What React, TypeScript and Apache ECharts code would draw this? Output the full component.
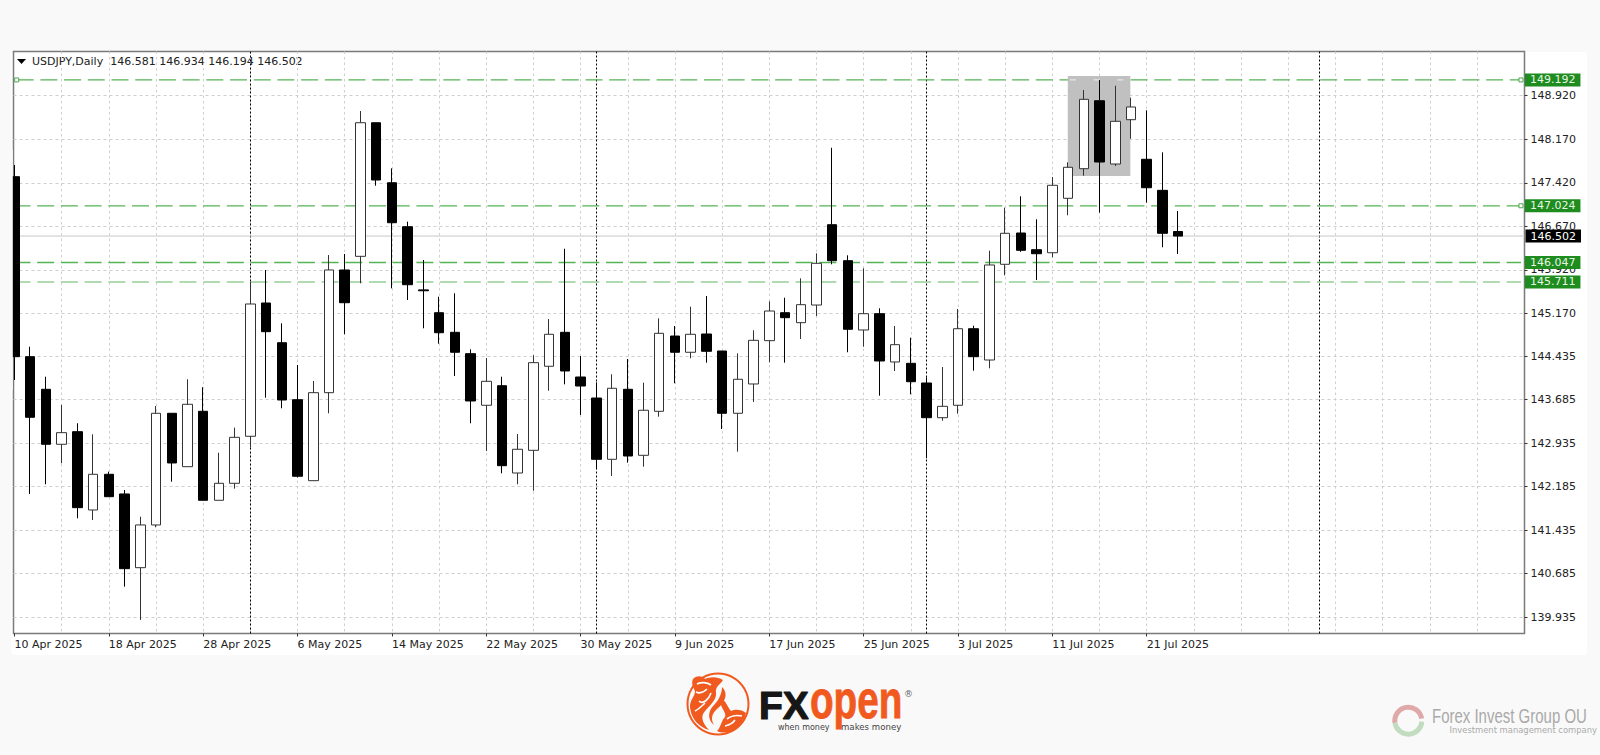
import React, { useEffect, useRef } from "react";
import * as echarts from "echarts";

const opens = [147.525,144.424,143.862,142.915,143.132,141.783,142.398,142.059,140.789,141.525,143.449,142.529,143.483,141.950,142.243,143.053,145.349,144.665,143.683,142.288,143.804,145.918,146.153,148.455,147.421,146.663,145.575,145.182,144.844,144.476,143.587,143.924,142.420,142.811,144.259,144.844,144.074,143.712,142.656,143.862,142.725,143.483,144.780,144.500,144.815,144.522,143.449,143.954,144.700,145.182,145.010,145.314,146.698,146.078,144.884,145.165,144.333,144.310,143.971,143.373,143.587,144.906,144.367,146.016,146.555,146.267,146.215,147.153,147.663,148.834,147.744,148.507,147.825,147.290,146.581];
const closes = [144.424,143.380,142.915,143.115,141.823,142.398,142.012,140.772,141.525,143.449,142.593,143.604,141.950,142.243,143.035,145.332,144.855,143.678,142.364,143.804,145.918,145.354,148.455,147.468,146.732,145.664,145.560,144.837,144.500,143.661,144.000,142.546,142.829,144.321,144.810,144.178,143.919,142.656,143.880,142.713,143.501,144.827,144.500,144.810,144.517,143.449,144.035,144.706,145.211,145.096,145.320,146.033,146.078,144.896,145.165,144.350,144.631,143.993,143.373,143.569,144.906,144.424,146.004,146.550,146.257,146.198,147.377,147.687,148.858,147.778,148.479,148.726,147.335,146.550,146.502];
const lows = [144.022,142.059,142.226,142.588,141.640,141.611,142.012,140.462,139.888,141.485,142.271,142.529,141.950,141.950,142.150,142.863,143.718,143.535,142.343,142.288,143.449,144.810,145.688,147.370,145.602,145.401,144.913,144.648,144.091,143.277,142.799,142.415,142.226,142.115,143.838,143.948,143.420,142.484,142.369,142.598,142.529,143.390,143.966,144.396,144.321,143.178,142.787,143.644,144.327,144.321,144.729,145.125,146.016,144.500,144.596,143.752,144.178,143.776,142.674,143.321,143.442,144.183,144.224,145.826,146.230,145.745,146.136,146.860,147.542,146.905,147.709,148.179,147.077,146.309,146.194];
const highs = [147.726,144.596,144.079,143.592,143.277,143.087,142.443,142.128,141.668,143.575,143.449,144.035,143.897,142.770,143.201,145.716,145.918,144.999,144.281,144.005,146.176,146.193,148.657,148.455,147.669,146.750,146.090,145.458,145.516,144.551,144.401,144.079,143.092,144.448,145.073,146.284,144.436,143.983,144.121,144.384,143.976,145.085,144.953,145.285,145.470,144.522,144.482,144.879,145.378,145.440,145.774,146.205,148.024,146.171,145.947,145.258,144.953,144.751,144.069,144.246,145.246,144.958,146.250,146.991,147.187,146.791,147.520,147.773,149.018,149.191,149.092,148.886,148.669,147.945,146.934];

const dateLabels = ["10 Apr 2025","18 Apr 2025","28 Apr 2025","6 May 2025","14 May 2025","22 May 2025","30 May 2025","9 Jun 2025","17 Jun 2025","25 Jun 2025","3 Jul 2025","11 Jul 2025","21 Jul 2025"];
const priceTicks = [148.92,148.17,147.42,146.67,145.92,145.17,144.435,143.685,142.935,142.185,141.435,140.685,139.935];
const separators = [15,37,58,83];
const gridBars = [3,6,9,12,15,18,21,24,27,30,33,36,39,42,45,48,51,54,57,60,63,66,69,72,75,78,81,84,87,90,93];
const supportLevels = [149.192,147.024,146.047,145.711];
const lastPrice = 146.502;
const boxBars = [66.98,70.96];
const boxPrices = [149.259,147.537];
const boxGapBars = [67.12,70.55];

const FONT = '"DejaVu Sans", sans-serif';
const X_MIN = -0.064;
const X_MAX = 96.025;
const Y_MIN = 139.655;
const Y_MAX = 149.682;
const LINE_END = 95.8;

echarts.graphic.registerShape("bullA", echarts.graphic.extendPath("M6 6C10 2 16 3 18 6C22 4 30 3 36 7C33 12 28 13 29 20C30 28 20 34 16 41C14 46 17 52 22 57C12 54 4 46 3 34C3 26 8 24 8 18C6 14 4 10 6 6Z", {}));
echarts.graphic.registerShape("bullB", echarts.graphic.extendPath("M33 28C38 24 40 34 44 38C48 36 54 36 59 40C57 48 52 54 46 58C40 60 34 60 30 58C34 54 34 48 38 44C40 40 34 36 33 28Z", {}));
echarts.graphic.registerShape("bullSwirl", echarts.graphic.extendPath("M35 14C42 20 38 30 30 36C24 41 24 47 27 52C20 46 21 38 27 32C32 27 35 20 35 14Z", {}));
echarts.graphic.registerShape("bullLines", echarts.graphic.extendPath("M10 11C14 9 20 9 24 12M9 19C13 21 17 19 20 16M12 28C16 32 22 26 24 20M8 38C12 36 15 33 18 30M40 46C44 43 50 42 55 43M38 53C42 52 46 50 48 47", {}));

const levelColor = (i: number) => (i === 3 ? "#97cf97" : "#56b356");

const levelSeries = supportLevels.map((lv, i) => {
  const square = { symbol: "rect", symbolSize: 4, itemStyle: { color: "#fff", borderColor: "#4aa84a", borderWidth: 1 } };
  const start = i === 0 ? { value: [0.14, lv], ...square } : { value: [X_MIN, lv], symbol: "none" };
  const end = i < 2 ? { value: [LINE_END, lv], ...square } : { value: [LINE_END, lv], symbol: "none" };
  return {
    type: "line",
    name: "level" + lv,
    xAxisIndex: 0,
    z: 2,
    silent: true,
    showSymbol: true,
    showAllSymbol: true,
    symbol: "none",
    data: [start, end],
    lineStyle: { color: levelColor(i), width: 1.3, type: [17, 6.7] },
    endLabel: {
      show: true,
      distance: 4,
      formatter: lv.toFixed(3),
      fontFamily: FONT,
      fontSize: 11,
      color: "#e6f5e6",
      backgroundColor: "#1e8c1e",
      padding: [1, 5, 0, 5],
      lineHeight: 12,
    },
  };
});

export default function App() {
  const ref = useRef<HTMLDivElement>(null);

  useEffect(() => {
    document.body.style.margin = "0";
    const chart = echarts.init(ref.current!, undefined, { renderer: "svg" });
    const rows = opens.map((o, i) => [i, o, closes[i], lows[i], highs[i]]);
    const txt = (x: number, y: number, text: string, fontSize: number, fill: string, extra: any = {}, styleExtra: any = {}) => ({
      type: "text",
      x,
      y,
      ...extra,
      style: { text, fontFamily: FONT, fontSize, fill, textVerticalAlign: "middle", ...styleExtra },
    });

    chart.setOption({
      animation: false,
      backgroundColor: "transparent",
      grid: {
        show: true,
        left: 13.5,
        right: 75.5,
        top: 51.5,
        bottom: 121.5,
        backgroundColor: "#fff",
        borderColor: "#7a7a7a",
        borderWidth: 1.5,
      },
      xAxis: [
        {
          type: "value",
          min: X_MIN,
          max: X_MAX,
          position: "bottom",
          axisLine: { show: false, onZero: false },
          splitLine: { show: false },
          axisTick: { show: true, length: 3, lineStyle: { color: "#333" }, customValues: dateLabels.map((_, k) => k * 6) },
          axisLabel: {
            show: true,
            margin: 5,
            align: "left",
            fontFamily: FONT,
            fontSize: 11,
            color: "#222",
            customValues: dateLabels.map((_, k) => k * 6),
            formatter: (v: number) => dateLabels[Math.round(v / 6)] ?? "",
          },
        },
        {
          type: "value",
          min: X_MIN,
          max: X_MAX,
          position: "bottom",
          axisLine: { show: false, onZero: false },
          axisLabel: { show: false },
          axisTick: { show: false, customValues: gridBars },
          splitLine: { show: true, lineStyle: { color: "#cfcfcf", width: 1, type: [2.5, 3] } },
        },
        {
          type: "value",
          min: X_MIN,
          max: X_MAX,
          position: "bottom",
          axisLine: { show: false, onZero: false },
          axisLabel: { show: false },
          axisTick: { show: false, customValues: separators },
          splitLine: { show: true, lineStyle: { color: "#000", width: 1, type: [2, 2] } },
        },
      ],
      yAxis: {
        type: "value",
        position: "right",
        min: Y_MIN,
        max: Y_MAX,
        axisLine: { show: false, onZero: false },
        axisTick: { show: true, length: 3, lineStyle: { color: "#333" }, customValues: priceTicks },
        axisLabel: {
          show: true,
          margin: 6,
          fontFamily: FONT,
          fontSize: 11,
          color: "#222",
          customValues: priceTicks,
          formatter: (v: number) => v.toFixed(3),
        },
        splitLine: { show: true, lineStyle: { color: "#cfcfcf", width: 1, type: [3, 3] } },
      },
      series: [
        {
          type: "line",
          name: "last",
          z: 2,
          silent: true,
          symbol: "none",
          data: [[X_MIN, lastPrice], [X_MAX, lastPrice]],
          lineStyle: { color: "#c8c8c8", width: 1 },
          endLabel: {
            show: true,
            distance: 1,
            formatter: lastPrice.toFixed(3),
            fontFamily: FONT,
            fontSize: 11,
            color: "#fff",
            backgroundColor: "#000",
            padding: [1, 5, 0, 5],
            lineHeight: 12,
          },
        },
        ...levelSeries,
        {
          type: "line",
          name: "box",
          z: 3,
          silent: true,
          symbol: "none",
          data: [],
          markArea: {
            silent: true,
            z: 3,
            itemStyle: { color: "#c0c0c0", opacity: 1 },
            data: [[{ xAxis: boxBars[0], yAxis: boxPrices[0] }, { xAxis: boxBars[1], yAxis: boxPrices[1] }]],
          },
        },
        {
          type: "line",
          name: "boxGaps",
          z: 4,
          silent: true,
          symbol: "none",
          data: [[boxGapBars[0], supportLevels[0]], [boxGapBars[1], supportLevels[0]]],
          lineStyle: { color: "#e6e6e6", width: 1.2, type: [6, 17.7] },
        },
        {
          type: "candlestick",
          name: "USDJPY",
          z: 5,
          silent: true,
          barWidth: 10,
          clip: true,
          data: rows,
          itemStyle: {
            color: "#fff",
            color0: "#000",
            borderColor: "#333",
            borderColor0: "#000",
            borderColorDoji: "#000",
            borderWidth: 1,
          },
        },
      ],
      graphic: {
        elements: [
          { type: "rect", z: 20, shape: { x: 0, y: 150, width: 12.8, height: 240 }, style: { fill: "#f9f9f9" } },
          { type: "polygon", shape: { points: [[17, 59], [26, 59], [21.5, 64]] }, style: { fill: "#000" } },
          txt(32, 61, "USDJPY,Daily  146.581 146.934 146.194 146.502", 11, "#222"),

          { type: "ring", shape: { cx: 718, cy: 704, r: 31.5, r0: 29.5 }, style: { fill: "#f15a1f" } },
          { type: "bullA", x: 687, y: 673, style: { fill: "#f15a1f" } },
          { type: "bullB", x: 687, y: 673, style: { fill: "#f15a1f" } },
          { type: "bullSwirl", x: 687, y: 673, style: { fill: "#f15a1f" } },
          { type: "bullLines", x: 687, y: 673, style: { fill: "none", stroke: "#fff", lineWidth: 1.6 } },
          txt(759, 705, "FX", 39, "#161616", {}, { fontFamily: '"Liberation Sans"', fontWeight: "bold", stroke: "#161616", lineWidth: 1.2 }),
          txt(810, 700, "open", 53, "#f15a1f", { scaleX: 0.73 }, { fontFamily: '"Liberation Sans"', fontWeight: "bold", stroke: "#f15a1f", lineWidth: 0.8 }),
          txt(904, 694, "®", 9, "#666"),
          txt(778, 727, "when money", 8, "#444"),
          txt(841, 727, "makes money", 8.6, "#444"),

          { type: "sector", shape: { cx: 1408.3, cy: 720.7, r: 16, r0: 11, startAngle: Math.PI * 0.95, endAngle: Math.PI * 1.95 }, style: { fill: "#e0a9a9" } },
          { type: "sector", shape: { cx: 1408.3, cy: 720.7, r: 16, r0: 11, startAngle: Math.PI * 0.02, endAngle: Math.PI * 0.95 }, style: { fill: "#c2dcc0" } },
          txt(1432, 716.5, "Forex Invest Group OU", 20, "#a9a9a9", { scaleX: 0.75 }, { fontFamily: '"Liberation Sans"' }),
          txt(1449.5, 730, "Investment management company", 8.4, "#aaaaaa"),
        ],
      },
    });

    return () => chart.dispose();
  }, []);

  return (
    <div style={{ position: "absolute", left: 0, top: 0, width: 1600, height: 755, background: "#f9f9f9", overflow: "hidden" }}>
      <div style={{ position: "absolute", left: 11, top: 52, width: 1576, height: 602.5, background: "#fff", borderRadius: 4 }} />
      <div ref={ref} style={{ position: "absolute", left: 0, top: 0, width: 1600, height: 755 }} />
    </div>
  );
}
